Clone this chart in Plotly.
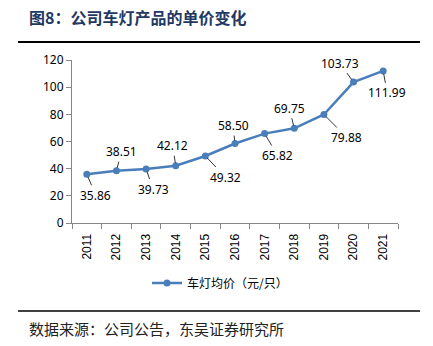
import plotly.graph_objects as go

years = ["2011", "2012", "2013", "2014", "2015", "2016", "2017", "2018", "2019", "2020", "2021"]
prices = [35.86, 38.51, 39.73, 42.12, 49.32, 58.50, 65.82, 69.75, 79.88, 103.73, 111.99]
label_texts = ["35.86", "38.51", "39.73", "42.12", "49.32", "58.50", "65.82", "69.75", "79.88", "103.73", "111.99"]
series_name = "车灯均价（元/只）"
title_text = "图8：公司车灯产品的单价变化"
source_text = "数据来源：公司公告，东吴证券研究所"

# label offsets in pixels (style)
label_dx = [9, 5, 7, -3, 20, -2, 13, -5, 23, -14, 4]
label_dy = [21, -19, 20, -20, 21, -18, 22, -20, 23, -19, 22]

W, H = 433, 346
L, R, T, B = 72, 35, 60, 123
pw = W - L - R
ph = H - T - B

def px(x):
    return (x - L) / pw

def py(y):
    return (H - B - y) / ph

line_color = "#4A7EBB"
axis_color = "#868686"

fig = go.Figure()
fig.add_trace(go.Scatter(
    x=years, y=prices, mode="lines+markers", name=series_name,
    line=dict(color=line_color, width=2.5),
    marker=dict(color=line_color, size=7),
))

annotations = []
for i, (v, t, dx, dy) in enumerate(zip(prices, label_texts, label_dx, label_dy)):
    annotations.append(dict(
        x=i, y=v, xref="x", yref="y", text=t, showarrow=True,
        ax=dx, ay=dy, arrowhead=0, arrowwidth=0.8, arrowcolor="#000000",
        standoff=3,
        font=dict(family="Noto Sans", size=12, color="#000000"),
    ))

annotations.append(dict(
    x=px(27), y=py(17), xref="paper", yref="paper", xanchor="left", yanchor="middle",
    text="<b>" + title_text + "</b>", showarrow=False,
    font=dict(family="Noto Sans CJK SC", size=16, color="#1F3864"),
))
annotations.append(dict(
    x=px(27), y=py(328), xref="paper", yref="paper", xanchor="left", yanchor="middle",
    text=source_text, showarrow=False,
    font=dict(family="Noto Sans CJK SC", size=15, color="#222222"),
))

shapes = [
    dict(type="line", xref="paper", yref="paper", x0=px(18), x1=px(420), y0=py(42), y1=py(42),
         line=dict(color="#000000", width=2)),
    dict(type="line", xref="paper", yref="paper", x0=px(18), x1=px(420), y0=py(311), y1=py(311),
         line=dict(color="#000000", width=1.5)),
]

fig.update_layout(
    width=W, height=H,
    margin=dict(l=L, r=R, t=T, b=B),
    paper_bgcolor="white", plot_bgcolor="white",
    showlegend=True,
    legend=dict(orientation="h", x=px(220), y=py(283), xanchor="center", yanchor="middle",
                font=dict(family="Noto Sans CJK SC", size=12, color="#000000"),
                bgcolor="rgba(0,0,0,0)"),
    annotations=annotations,
    shapes=shapes,
)
fig.update_xaxes(
    type="category", range=[-0.5, 10.5], showline=True, linecolor=axis_color, linewidth=1,
    ticks="outside", tickson="boundaries", ticklen=5, tickcolor=axis_color,
    tickangle=-90, showgrid=False, zeroline=False, ticklabelstandoff=5,
    tickfont=dict(family="Liberation Sans", size=12, color="#000000"),
)
fig.update_yaxes(
    range=[0, 120], dtick=20, showline=True, linecolor=axis_color, linewidth=1,
    ticks="outside", ticklen=5, tickcolor=axis_color, showgrid=False, zeroline=False,
    tickfont=dict(family="Noto Sans", size=12, color="#000000"),
)

fig.write_html("out.html")
